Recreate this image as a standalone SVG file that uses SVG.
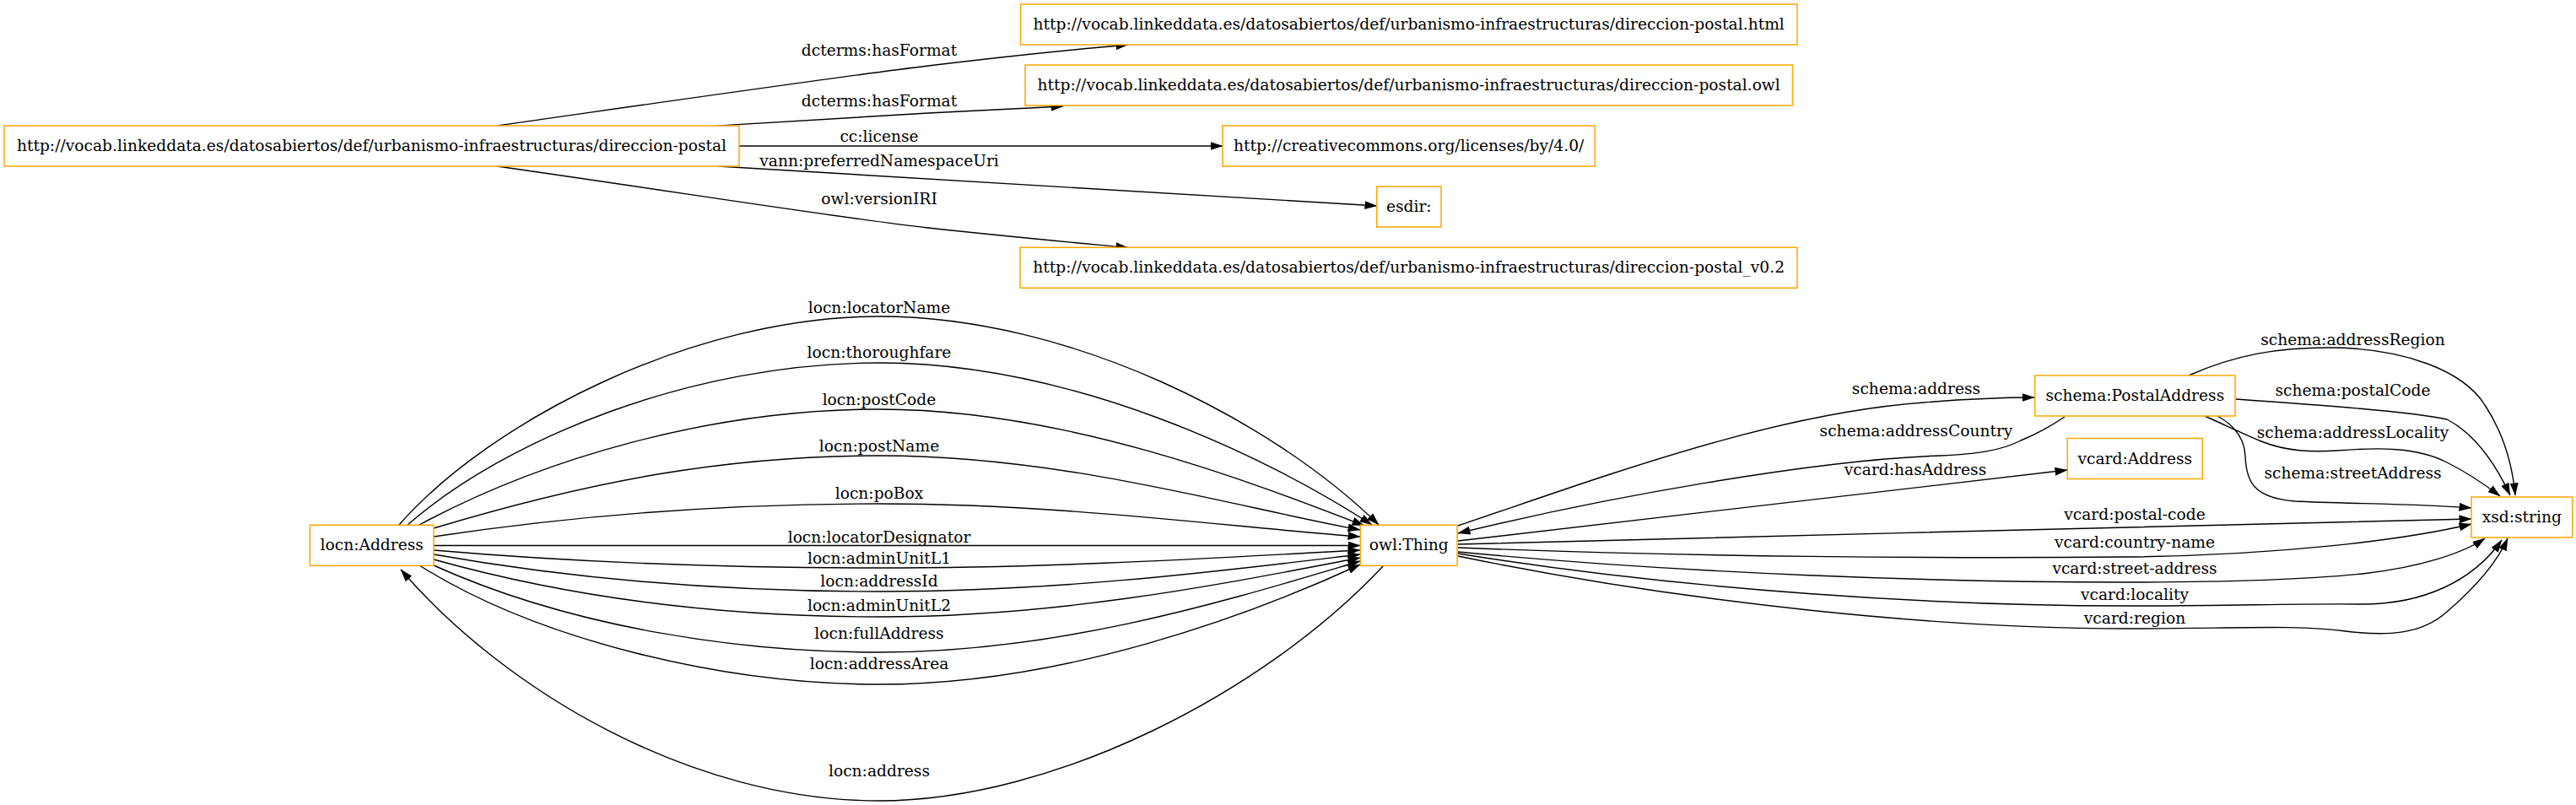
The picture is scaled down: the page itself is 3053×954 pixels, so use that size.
<svg xmlns="http://www.w3.org/2000/svg" width="3053" height="954" viewBox="0 0 3053 954">
<style>
.node rect{fill:#fff;stroke:#ffa500;stroke-width:1.5}
.node text,.elabel{font-family:"DejaVu Serif",serif;font-size:18.67px;fill:#000;text-anchor:middle}
.edge{fill:none;stroke:#000;stroke-width:1.4;marker-end:url(#arr)}
</style>
<defs>
<marker id="arr" viewBox="0 0 15 10" markerWidth="15" markerHeight="10" refX="14.5" refY="5" orient="auto" markerUnits="userSpaceOnUse"><path d="M0,0 L15,5 L0,10 z" fill="#000"/></marker>
</defs>
<rect width="3053" height="954" fill="#fff"/>
<g id="connectors">
<path class="edge" d="M589,149 C800,119 1000,90 1100,78 C1200,66 1290,57 1337,53"/>
<path class="edge" d="M851,149 C950,143 1050,137 1100,134 C1160,131 1220,128 1260,126"/>
<path class="edge" d="M876,173 L1449,173"/>
<path class="edge" d="M851,197 L1632,244"/>
<path class="edge" d="M589,197 C800,227 1000,259 1100,270 C1200,281 1290,289 1337,293.5"/>
<path class="edge" d="M473,622 C580,500 820,375 1042,375 C1270,375 1510,500 1634,622"/>
<path class="edge" d="M483,622 C600,520 820,430 1042,430 C1270,430 1500,540 1626,622"/>
<path class="edge" d="M497,622 C640,545 840,485 1042,485 C1260,485 1480,570 1617,623"/>
<path class="edge" d="M514,626 C700,570 860,540 1042,540 C1260,540 1460,600 1612,628"/>
<path class="edge" d="M514,636 C700,608 880,597 1042,597 C1260,597 1460,625 1612,636"/>
<path class="edge" d="M514,646.5 L1612,646.5"/>
<path class="edge" d="M514,652 C700,668 880,673 1042,673 C1260,673 1460,660 1612,652"/>
<path class="edge" d="M514,657 C700,690 880,701 1042,701 C1260,701 1460,675 1612,657"/>
<path class="edge" d="M514,663 C700,715 880,731 1042,731 C1260,731 1460,690 1612,661"/>
<path class="edge" d="M514,670 C680,745 880,773 1042,773 C1260,773 1460,710 1612,665"/>
<path class="edge" d="M497,670 C640,760 860,811 1042,811 C1260,811 1480,730 1612,669"/>
<path class="edge" d="M1640,670 C1500,820 1250,949 1042,949 C820,949 600,820 475,675"/>
<path class="edge" d="M1728,623 C1900,565 2100,490 2280,477 C2340,472 2380,471 2411,471"/>
<path class="edge" d="M2447,494 C2420,512 2405,518 2395,522 C2370,535 2340,538 2300,540 C2150,545 1900,590 1728,632"/>
<path class="edge" d="M1728,641 L2450,557"/>
<path class="edge" d="M1728,645 C2100,636 2600,622 2929,615"/>
<path class="edge" d="M1728,649 C2000,660 2300,662 2520,660 C2700,658 2850,640 2929,621"/>
<path class="edge" d="M1728,654 C2000,680 2300,690 2520,690 C2650,690 2740,686 2800,680 C2870,672 2920,655 2945,638"/>
<path class="edge" d="M1728,656 C2000,700 2300,718 2520,718 C2650,718 2720,715 2800,716 C2870,716 2930,690 2965,640"/>
<path class="edge" d="M1728,659 C2000,715 2300,745 2520,745 C2650,745 2720,740 2780,748 C2830,754 2870,752 2900,725 C2935,695 2960,665 2972,638"/>
<path class="edge" d="M2594,445 C2650,420 2700,412 2760,412 C2850,412 2920,440 2945,480 C2968,515 2978,555 2981,587"/>
<path class="edge" d="M2650,473 C2750,480 2860,488 2900,497 C2935,515 2960,555 2975,587"/>
<path class="edge" d="M2613,493 C2640,505 2660,515 2680,523 C2710,535 2740,536 2770,534 C2820,530 2865,530 2900,548 C2930,563 2950,578 2963,588"/>
<path class="edge" d="M2628,493 C2650,505 2660,520 2661,540 C2662,570 2670,590 2720,594 C2780,597 2870,597 2929,602"/>
<text class="elabel" x="1042" y="65.5">dcterms:hasFormat</text>
<text class="elabel" x="1042" y="126">dcterms:hasFormat</text>
<text class="elabel" x="1042" y="168">cc:license</text>
<text class="elabel" x="1042" y="196.5">vann:preferredNamespaceUri</text>
<text class="elabel" x="1042" y="242">owl:versionIRI</text>
<text class="elabel" x="1042" y="370.5">locn:locatorName</text>
<text class="elabel" x="1042" y="424">locn:thoroughfare</text>
<text class="elabel" x="1042" y="480">locn:postCode</text>
<text class="elabel" x="1042" y="535">locn:postName</text>
<text class="elabel" x="1042" y="591">locn:poBox</text>
<text class="elabel" x="1042" y="642.5">locn:locatorDesignator</text>
<text class="elabel" x="1042" y="668">locn:adminUnitL1</text>
<text class="elabel" x="1042" y="694.5">locn:addressId</text>
<text class="elabel" x="1042" y="724">locn:adminUnitL2</text>
<text class="elabel" x="1042" y="757">locn:fullAddress</text>
<text class="elabel" x="1042" y="793">locn:addressArea</text>
<text class="elabel" x="1042" y="920">locn:address</text>
<text class="elabel" x="2271" y="467">schema:address</text>
<text class="elabel" x="2271" y="517">schema:addressCountry</text>
<text class="elabel" x="2270" y="563">vcard:hasAddress</text>
<text class="elabel" x="2530" y="615.5">vcard:postal-code</text>
<text class="elabel" x="2530" y="648.5">vcard:country-name</text>
<text class="elabel" x="2530" y="680">vcard:street-address</text>
<text class="elabel" x="2530" y="711">vcard:locality</text>
<text class="elabel" x="2530" y="738.5">vcard:region</text>
<text class="elabel" x="2788.5" y="408.5">schema:addressRegion</text>
<text class="elabel" x="2788.5" y="468.5">schema:postalCode</text>
<text class="elabel" x="2788.5" y="518.5">schema:addressLocality</text>
<text class="elabel" x="2788.5" y="567">schema:streetAddress</text>
</g>
<g id="n-dp" class="node"><rect x="5" y="149" width="871" height="48"/><text x="440.5" y="179">http://vocab.linkeddata.es/datosabiertos/def/urbanismo-infraestructuras/direccion-postal</text></g>
<g id="n-html" class="node"><rect x="1209.5" y="5" width="920.5" height="48"/><text x="1669.7" y="35">http://vocab.linkeddata.es/datosabiertos/def/urbanismo-infraestructuras/direccion-postal.html</text></g>
<g id="n-owl" class="node"><rect x="1215" y="77" width="909.5" height="48"/><text x="1669.7" y="107">http://vocab.linkeddata.es/datosabiertos/def/urbanismo-infraestructuras/direccion-postal.owl</text></g>
<g id="n-cc" class="node"><rect x="1449" y="149" width="441.3" height="48"/><text x="1669.7" y="179">http://creativecommons.org/licenses/by/4.0/</text></g>
<g id="n-esdir" class="node"><rect x="1631.7" y="221" width="76.3" height="48"/><text x="1669.8" y="251">esdir:</text></g>
<g id="n-v02" class="node"><rect x="1209" y="293.3" width="921" height="48"/><text x="1669.7" y="323.3">http://vocab.linkeddata.es/datosabiertos/def/urbanismo-infraestructuras/direccion-postal_v0.2</text></g>
<g id="n-locnAddress" class="node"><rect x="367.3" y="622.3" width="146.7" height="48"/><text x="440.7" y="652.3">locn:Address</text></g>
<g id="n-owlThing" class="node"><rect x="1612.3" y="622.3" width="114.7" height="48"/><text x="1669.7" y="652.3">owl:Thing</text></g>
<g id="n-postalAddress" class="node"><rect x="2411.7" y="445" width="237.3" height="48"/><text x="2530.3" y="475">schema:PostalAddress</text></g>
<g id="n-vcardAddress" class="node"><rect x="2450.3" y="519.5" width="160" height="48"/><text x="2530.3" y="549.5">vcard:Address</text></g>
<g id="n-xsdString" class="node"><rect x="2929" y="589" width="119.7" height="48"/><text x="2988.8" y="619">xsd:string</text></g>
</svg>
